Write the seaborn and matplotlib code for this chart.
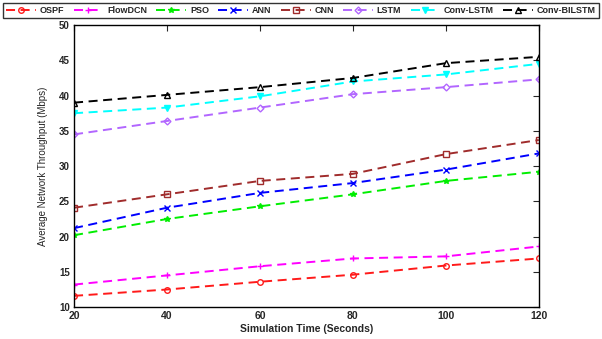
import matplotlib
matplotlib.use("Agg")
import matplotlib.pyplot as plt
import seaborn as sns
import pandas as pd

sns.set_style("white")
plt.rcParams['font.family'] = ['Liberation Sans', 'DejaVu Sans']
plt.rcParams['lines.scale_dashes'] = False

time = [20, 40, 60, 80, 100, 120]
ospf = [11.6, 12.5, 13.6, 14.6, 15.9, 16.9]
flowdcn = [13.2, 14.5, 15.8, 16.9, 17.2, 18.6]
pso = [20.2, 22.5, 24.3, 26.0, 27.9, 29.2]
ann = [21.2, 24.1, 26.2, 27.6, 29.5, 31.8]
cnn = [24.1, 26.0, 27.9, 28.9, 31.7, 33.7]
lstm = [34.5, 36.4, 38.3, 40.2, 41.2, 42.3]
conv_lstm = [37.5, 38.3, 39.9, 42.0, 43.0, 44.5]
conv_bilstm = [39.0, 40.1, 41.2, 42.5, 44.6, 45.5]

names = ["OSPF", "FlowDCN", "PSO", "ANN", "CNN", "LSTM", "Conv-LSTM", "Conv-BILSTM"]
series = [ospf, flowdcn, pso, ann, cnn, lstm, conv_lstm, conv_bilstm]
colors = ["#ff1a1a", "#ff00ff", "#00ee00", "#0000ff", "#a02c2c", "#b266ff", "#00ffff", "#000000"]
markers = ["o", "+", "*", "x", "s", "D", "v", "^"]
filled = [False, True, True, True, False, False, True, False]

fig = plt.figure(figsize=(6.02, 3.39), dpi=100)
ax = fig.add_axes([0.123, 0.094, 0.772, 0.832])

handles = []
for name, vals, c, m, f in zip(names, series, colors, markers, filled):
    df = pd.DataFrame({"t": time, "v": vals, "method": [name] * len(time)})
    n_before = len(ax.lines)
    sns.lineplot(data=df, x="t", y="v", style="method", ax=ax, color=c,
                 dashes=[(6.5, 4)], markers=[m], legend=False,
                 linewidth=1.4, markersize=4 if m != "D" else 3.5,
                 markerfacecolor=(c if f else "none"), markeredgecolor=c,
                 markeredgewidth=1.0)
    for line in ax.lines[n_before:]:
        line.set_color(c)
        line.set_markerfacecolor(c if f else "none")
        line.set_markeredgecolor(c)
        line.set_dash_capstyle("butt")
        handles.append(line)

ax.set_xlim(20, 120)
ax.set_ylim(10, 50)
ax.set_xticks(time)
ax.set_yticks([10, 15, 20, 25, 30, 35, 40, 45, 50])
ax.tick_params(direction='in', top=True, right=True, length=4, width=0.8,
               labelsize=7, pad=3)
ax.tick_params(axis='x', labelsize=7.5)
for lab in ax.get_xticklabels() + ax.get_yticklabels():
    lab.set_fontweight('bold')
for s in ax.spines.values():
    s.set_color('black')
    s.set_linewidth(1.0)
ax.set_xlabel("Simulation Time (Seconds)", fontsize=7.5, fontweight='bold', labelpad=2)
ax.set_ylabel("Average Network Throughput (Mbps)", fontsize=7, labelpad=8)

leg = fig.legend(handles, names, loc='upper center', bbox_to_anchor=(0.5, 1.0),
                 ncol=8, fontsize=6.5, frameon=True, fancybox=False, edgecolor='black',
                 handlelength=3.3, handletextpad=0.4, columnspacing=1.05,
                 borderpad=0.35, borderaxespad=0.3)
leg.get_frame().set_linewidth(1.0)
for t in leg.get_texts():
    t.set_fontweight('bold')

fig.savefig("out.png", dpi=100)
